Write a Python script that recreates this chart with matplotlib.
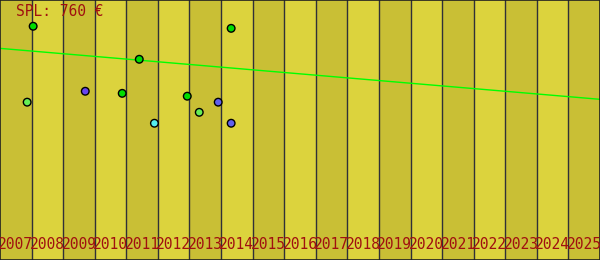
import matplotlib
matplotlib.use("Agg")
import matplotlib.pyplot as plt

# years shown as bands along the bottom
years = list(range(2007, 2026))

# points: x in fractional years, y in euro
pt_x = [2008.05, 2014.32, 2011.41, 2007.86, 2009.70, 2010.87, 2012.93, 2013.91, 2013.31, 2011.89, 2014.32]
pt_y = [899, 891, 772, 607, 649, 641, 630, 607, 568, 526, 526]
pt_col = ['#00dd00', '#00dd00', '#00dd00', '#66ee55', '#6644ee', '#00dd00',
          '#00dd00', '#6060ee', '#66ee55', '#55eeee', '#6060ee']

# trend line endpoints
trend_x = [2007, 2026]
trend_y = [814, 618]

label = "SPL: 760 €"

fig = plt.figure(figsize=(6, 2.6), dpi=100)
ax = fig.add_axes([0, 0, 1, 1])
ax.set_xlim(2007, 2026)
ax.set_ylim(0, 1000)

for i, y in enumerate(years):
    c = '#c9bf35' if i % 2 == 0 else '#dcd33d'
    ax.axvspan(y, y + 1, color=c, lw=0, zorder=0)
    if i > 0:
        ax.axvline(y, color='#303038', lw=1, zorder=1)
    ax.text(y + 0.5, 0.058, str(y), transform=ax.get_xaxis_transform(),
            ha='center', va='center', family='DejaVu Sans Mono',
            fontsize=10.5, color='#a01010', zorder=4)

ax.plot(trend_x, trend_y, color='#00ff00', lw=1, zorder=2)
ax.scatter(pt_x, pt_y, s=30, c=pt_col, edgecolors='black', linewidths=1, zorder=3)

ax.text(0.027, 0.955, label, transform=ax.transAxes, ha='left', va='center',
        family='DejaVu Sans Mono', fontsize=10.5, color='#a01010')

ax.set_xticks([])
ax.set_yticks([])
for s in ax.spines.values():
    s.set_color('#202020')
    s.set_linewidth(1.2)

fig.savefig('out.png', dpi=100)
